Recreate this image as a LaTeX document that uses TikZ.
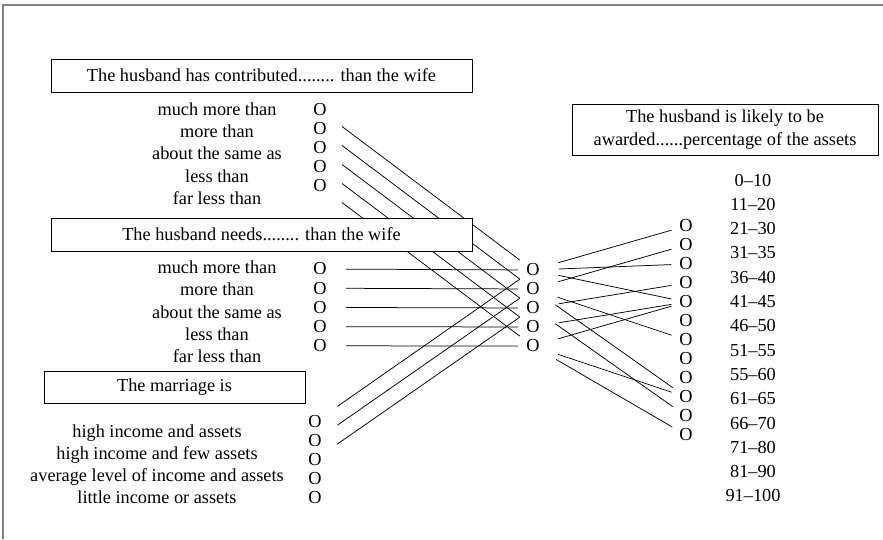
\documentclass[tikz,border=0pt]{standalone}
\usepackage{fontspec}
\setmainfont{Liberation Serif}

\begin{document}
\begin{tikzpicture}[
        x=1pt, y=-1pt,
        font=\fontsize{18.3}{23}\selectfont,
        titleNode/.style={draw, fill=white, rectangle, align=center, inner sep=0pt, line width=0.8pt},
        optNode/.style={anchor=base, inner sep=0pt},
        dotNode/.style={inner sep=0pt},
        link/.style={line width=0.75pt, shorten <=19pt, shorten >=8pt}
    ]
        \useasboundingbox (0,0) rectangle (883,539);

        % Frame
        \draw[gray, line width=1.2pt] (3,539) -- (3,5) -- (883,5);

        % Option labels
        \foreach \txt [count=\i from 0] in {much more than, more than, about the same as, less than, far less than} {
            \node[optNode] at (217, 115.5+22.2*\i) {\txt};
            \node[optNode] at (217, 273.5+22.3*\i) {\txt};
        }
        \foreach \txt [count=\i from 0] in {high income and assets, high income and few assets, average level of income and assets, little income or assets}
            \node[optNode] at (157, 437.5+22*\i) {\txt};
        \foreach \txt [count=\i from 0] in {0--10, 11--20, 21--30, 31--35, 36--40, 41--45, 46--50, 51--55, 55--60, 61--65, 66--70, 71--80, 81--90, 91--100}
            \node[optNode] at (753, 186+24.3*\i) {\txt};

        % O columns
        \foreach \i in {1,...,5} {
            \node[dotNode] (contrib\i) at (320, 91+19*\i) {O};
            \node[dotNode] (need\i) at (320, 249.8+19.2*\i) {O};
            \node[dotNode] (marr\i) at (315, 403.2+18.8*\i) {O};
            \node[dotNode] (hid\i) at (533, 251+19*\i) {O};
        }
        \foreach \i in {1,...,12}
            \node[dotNode] (pct\i) at (686, 207+19*\i) {O};

        % Connectors
        \foreach \i in {1,...,5} {
            \draw[link] (contrib\i) -- (hid\i);
            \draw[link] (need\i) -- (hid\i);
        }
        \foreach \i in {1,2,3}
            \draw[link] (marr\i) -- (hid\i);
        \foreach \h/\p in {1/1, 1/3, 1/5, 2/2, 2/7, 2/10, 3/4, 3/11, 4/5, 5/5, 5/10, 5/12}
            \draw[link] (hid\h) -- (pct\p);

        % Headings (drawn last so they cover the lines)
        \node[titleNode, minimum width=421pt, minimum height=33pt] (contribBox) at (261.5,75.5) {The husband has contributed........ than the wife};
        \node[titleNode, minimum width=421pt, minimum height=33pt] (needBox) at (261.5,234.5) {The husband needs........ than the wife};
        \node[titleNode, minimum width=261pt, minimum height=32pt] (marrBox) at (174.5,387) {The marriage is};
        \node[titleNode, minimum width=306pt, minimum height=51pt] (awardBox) at (725,129.5) {The husband is likely to be\\awarded......percentage of the assets};
    \end{tikzpicture}
\end{document}
